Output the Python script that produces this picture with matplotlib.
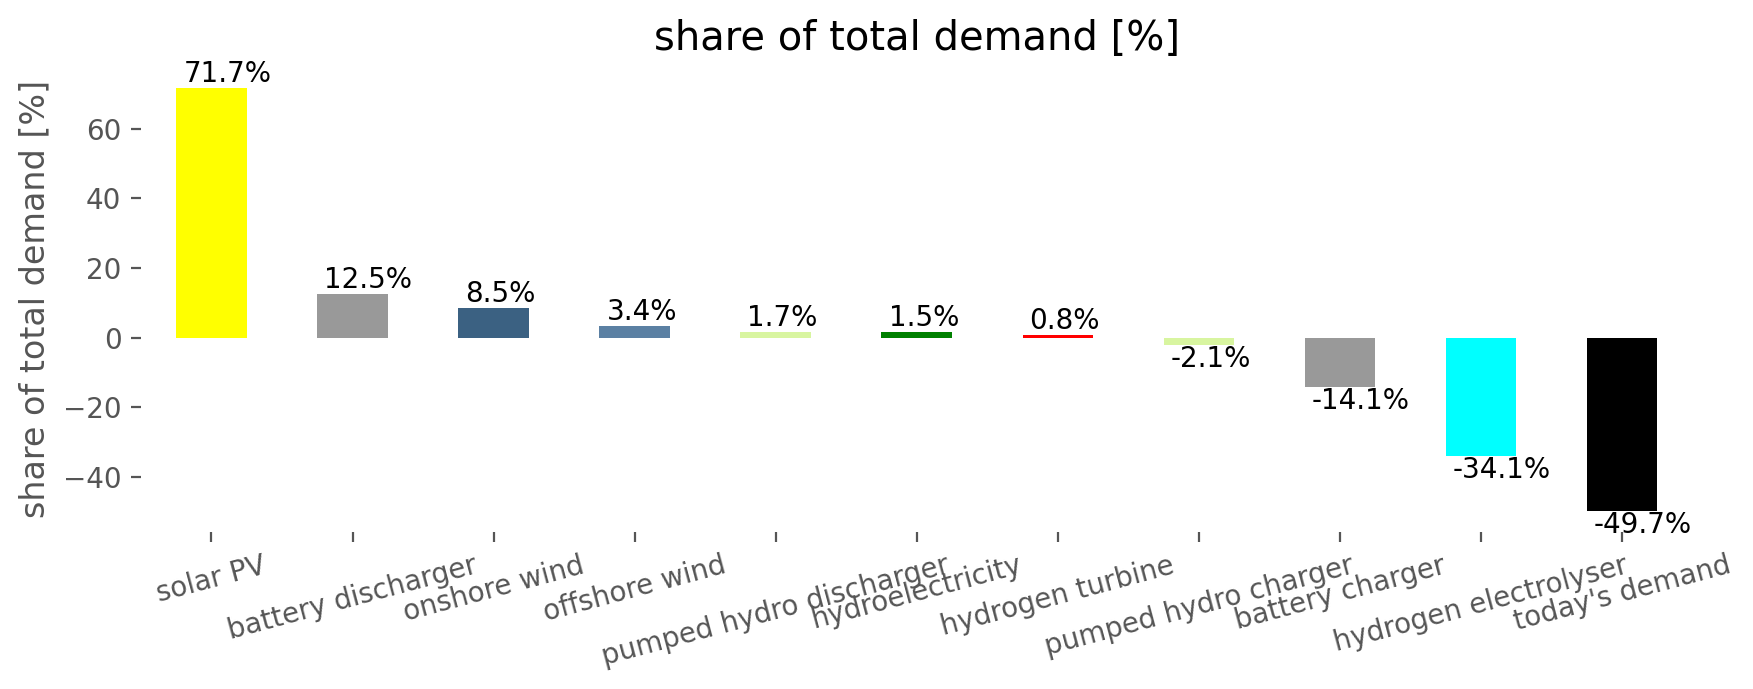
import matplotlib
matplotlib.use("Agg")
import matplotlib.pyplot as plt

# carriers and their share of total demand in %
carriers = ["solar PV", "battery discharger", "onshore wind", "offshore wind",
            "pumped hydro discharger", "hydroelectricity", "hydrogen turbine",
            "pumped hydro charger", "battery charger", "hydrogen electrolyser",
            "today's demand"]
shares = [71.7, 12.5, 8.5, 3.4, 1.7, 1.5, 0.8, -2.1, -14.1, -34.1, -49.7]
colors = ["#ffff00", "#999999", "#3b6182", "#5b80a3", "#d8f5a0", "#008000",
          "#ff0000", "#d8f5a0", "#999999", "#00ffff", "#000000"]

fig, ax = plt.subplots(figsize=(8.765, 3.445), dpi=200)
fig.subplots_adjust(left=0.0804, right=0.9655, top=0.903, bottom=0.228)

bars = ax.bar(range(len(carriers)), shares, width=0.5, color=colors)
ax.set_xlim(-0.5, len(carriers) - 0.5)

# percentage labels at the end of each bar
for p, v in zip(bars, shares):
    if v >= 0:
        ax.text(p.get_x() + 0.05, v, f"{v:.1f}%", va="bottom", ha="left", fontsize=10)
    else:
        ax.text(p.get_x() + 0.05, v, f"{v:.1f}%", va="top", ha="left", fontsize=10)

ax.set_xticks(range(len(carriers)))
ax.set_xticklabels(carriers, rotation=15, ha="center")
ax.set_title("share of total demand [%]", fontsize=14.4)
ax.set_ylabel("share of total demand [%]", fontsize=12, color="#555555")
ax.tick_params(colors="#555555", labelsize=10)
for s in ax.spines.values():
    s.set_visible(False)
ax.set_facecolor("white")

fig.savefig("out.png", dpi=200)
